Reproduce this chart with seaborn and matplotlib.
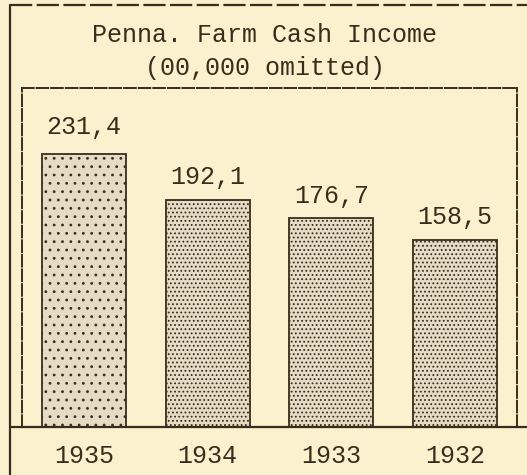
import matplotlib
matplotlib.use('Agg')
import matplotlib.pyplot as plt
import seaborn as sns
import pandas as pd
from matplotlib.lines import Line2D

# data (00,000 omitted)
years = ['1935', '1934', '1933', '1932']
income = [231.4, 192.1, 176.7, 158.5]
value_labels = ['231,4', '192,1', '176,7', '158,5']
title_lines = ['Penna. Farm Cash Income', '(00,000 omitted)']

paper = '#fbf1ce'
ink = '#3a2c1c'

sns.set_style('white')
plt.rcParams['font.family'] = ['Liberation Mono', 'DejaVu Sans Mono']
plt.rcParams['hatch.color'] = ink
plt.rcParams['hatch.linewidth'] = 0.8

df = pd.DataFrame({'year': years, 'income': income})

fig = plt.figure(figsize=(5.27, 4.75), dpi=100, facecolor=paper)
ax = fig.add_axes([22 / 527, 48 / 475, 495 / 527, 339 / 475])
ax.set_facecolor(paper)

sns.barplot(data=df, x='year', y='income', color='#e4dcc4', width=0.68,
            edgecolor=ink, linewidth=1.3, ax=ax, saturation=1)

hatches = ['..', '....', '....', '....']
for bar, h in zip(ax.patches, hatches):
    bar.set_hatch(h)

offsets = [12, 9, 9, 9]
for i, (v, lab, off) in enumerate(zip(income, value_labels, offsets)):
    ax.text(i, v + off, lab, ha='center', va='bottom', fontsize=18, color=ink)

ax.set_ylim(0, 287)
ax.set_xlim(-0.5, 3.5)
ax.set_xlabel('')
ax.set_ylabel('')
ax.set_yticks([])
ax.tick_params(axis='x', length=0, pad=12, labelsize=18, labelcolor=ink)
for s in ['left', 'right', 'top']:
    ax.spines[s].set_color(ink)
    ax.spines[s].set_linewidth(1.4)
    ax.spines[s].set_linestyle((0, (6, 1.5)))
ax.spines['bottom'].set_visible(False)

# outer frame and the long baseline
fig.add_artist(Line2D([10 / 527, 10 / 527], [0, 470 / 475], color=ink, lw=1.6,
                      transform=fig.transFigure))
fig.add_artist(Line2D([10 / 527, 1], [470 / 475, 470 / 475], color=ink, lw=1.6,
                      ls=(0, (10, 2)), transform=fig.transFigure))
fig.add_artist(Line2D([10 / 527, 1], [48 / 475, 48 / 475], color=ink, lw=1.6,
                      transform=fig.transFigure))

fig.text(265 / 527, 440 / 475, title_lines[0], ha='center', va='center',
         fontsize=18, color=ink)
fig.text(265 / 527, 407 / 475, title_lines[1], ha='center', va='center',
         fontsize=18, color=ink)

fig.savefig('out.png', dpi=100, facecolor=paper)
